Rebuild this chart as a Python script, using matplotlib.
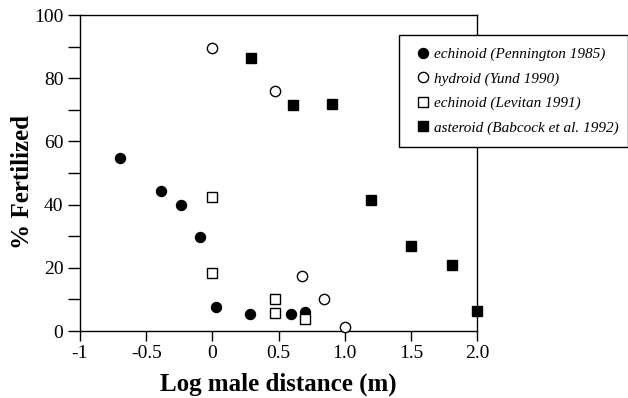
import matplotlib
matplotlib.use("Agg")
import matplotlib.pyplot as plt
from matplotlib.ticker import MultipleLocator

plt.rcParams['font.family'] = 'Liberation Serif'

# echinoid (Pennington 1985)
penn_x = [-0.70, -0.39, -0.235, -0.095, 0.025, 0.285, 0.59, 0.70]
penn_y = [54.7, 44.2, 40.0, 29.7, 7.5, 5.3, 5.3, 5.9]

# hydroid (Yund 1990)
yund_x = [0.0, 0.475, 0.68, 0.845, 1.0]
yund_y = [89.6, 76.0, 17.3, 10.0, 1.2]

# echinoid (Levitan 1991)
levitan_x = [0.0, 0.0, 0.475, 0.475, 0.70]
levitan_y = [42.5, 18.4, 10.0, 5.6, 3.7]

# asteroid (Babcock et al. 1992)
babcock_x = [0.29, 0.61, 0.905, 1.20, 1.50, 1.81, 2.0]
babcock_y = [86.3, 71.6, 71.7, 41.5, 27.0, 20.8, 6.2]

series_labels = ['echinoid (Pennington 1985)', 'hydroid (Yund 1990)',
                 'echinoid (Levitan 1991)', 'asteroid (Babcock et al. 1992)']

xtick_vals = [-1, -0.5, 0, 0.5, 1.0, 1.5, 2.0]
xtick_text = ['-1', '-0.5', '0', '0.5', '1.0', '1.5', '2.0']
ytick_vals = [0, 20, 40, 60, 80, 100]

fig = plt.figure(figsize=(6.28, 3.98), dpi=100)
ax = fig.add_axes([80 / 628, 1 - 331 / 398, 397.3 / 628, 316 / 398])

common = dict(ls='none', clip_on=False, zorder=3, mec='black', mew=1.0)
ax.plot(penn_x, penn_y, 'o', ms=7.2, mfc='black', label=series_labels[0], **common)
ax.plot(yund_x, yund_y, 'o', ms=7.4, mfc='white', label=series_labels[1], **common)
ax.plot(levitan_x, levitan_y, 's', ms=7.2, mfc='white', label=series_labels[2], **common)
ax.plot(babcock_x, babcock_y, 's', ms=7.2, mfc='black', label=series_labels[3], **common)

ax.set_xlim(-1, 2.0)
ax.set_ylim(0, 100)
ax.set_xticks(xtick_vals)
ax.set_xticklabels(xtick_text)
ax.set_yticks(ytick_vals)
ax.yaxis.set_minor_locator(MultipleLocator(10))

for sp in ax.spines.values():
    sp.set_linewidth(1.0)

ax.tick_params(axis='both', which='both', direction='out', width=1.0,
               labelsize=14, top=False, right=False)
ax.tick_params(axis='x', length=7, pad=3)
ax.tick_params(axis='y', which='both', length=9, pad=3)

ax.set_xlabel('Log male distance (m)', fontsize=18, fontweight='bold')
ax.xaxis.set_label_coords(0.5, -0.13)
ax.set_ylabel('% Fertilized', fontsize=18, fontweight='bold')
ax.yaxis.label.set_verticalalignment('center')
ax.yaxis.set_label_coords(-0.1435, 0.473)

leg = ax.legend(loc='upper left',
                bbox_to_anchor=(399 / 628, 0.0, 228.5 / 628, 1 - 34.7 / 398),
                bbox_transform=fig.transFigure, mode='expand', borderaxespad=0,
                fancybox=False, edgecolor='black', framealpha=1,
                prop={'style': 'italic', 'size': 11}, borderpad=0.82,
                handlelength=1.5, handletextpad=0.0, labelspacing=0.7)
leg.get_frame().set_linewidth(1.0)

fig.savefig('out.png', dpi=100)
